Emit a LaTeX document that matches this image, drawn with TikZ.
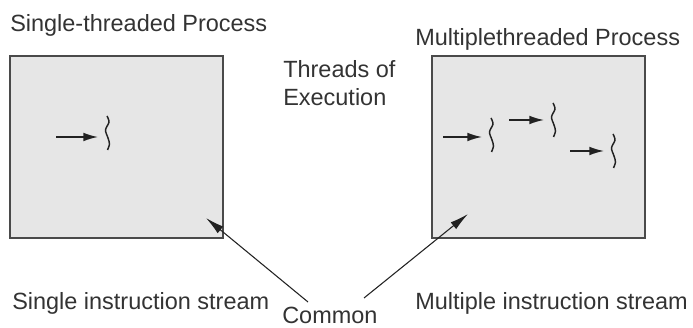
\documentclass[tikz,border=0pt]{standalone}
\usepackage{fontspec}
\setsansfont{Liberation Sans}
\usetikzlibrary{arrows.meta}
\usepackage{xcolor}
\definecolor{ink}{HTML}{333333}
\definecolor{wire}{HTML}{222222}
\definecolor{procFill}{HTML}{E6E6E6}
\definecolor{procLine}{HTML}{4A4A4A}
\tikzset{
  base/.style={font=\sffamily\fontsize{17.6}{21}\selectfont, text=ink, inner sep=0pt},
  heading/.style={base, anchor=base west},
  note/.style={base, align=left, anchor=north west},
  process/.style={draw=procLine, fill=procFill, line width=1.1pt, minimum width=159.75pt, minimum height=136.5pt, inner sep=0pt},
  thread/.style={minimum width=8pt, minimum height=28pt, inner sep=0pt,
    path picture={\draw[wire, line width=1.1pt, shift={(path picture bounding box.center)}]
      plot[smooth] coordinates {(0,17) (2,11) (-1.5,3) (1,-5) (2.5,-11) (0.5,-17)};}},
  flow/.style={-{Latex[length=11pt,width=6.5pt]}, line width=1.2pt, draw=wire, shorten >=2.5pt},
  pointer/.style={-{Latex[length=14pt,width=6.5pt]}, line width=0.8pt, draw=wire},
}

\begin{document}
\begin{tikzpicture}[x=0.75pt,y=0.75pt]
  \useasboundingbox (0,0) rectangle (693,328);

  \node[heading] (stitle) at (10,296) {Single-threaded Process};
  \node[heading] (mtitle) at (415,282) {Multiplethreaded Process};
  \node[note] (threads) at (283,268) {Threads of\\Execution};

  \node[process] (single) at (116.5,181) {};
  \node[process] (multi) at (538.5,181) {};

  \node[thread] (t0) at (107,195) {};
  \node[thread] (t1) at (491,193) {};
  \node[thread] (t2) at (553,208) {};
  \node[thread] (t3) at (613,177) {};
  \coordinate (a0) at (56,191);
  \coordinate (a1) at (443,191);
  \coordinate (a2) at (509,208);
  \coordinate (a3) at (570,177);

  \draw[flow] (a0) -- (a0 -| t0.west);
  \draw[flow] (a1) -- (a1 -| t1.west);
  \draw[flow] (a2) -- (a2 -| t2.west);
  \draw[flow] (a3) -- (a3 -| t3.west);

  \node[heading] (sstream) at (12,18) {Single instruction stream};
  \node[heading] (mstream) at (415,18) {Multiple instruction stream};
  \node[heading] (common) at (282,4) {Common};

  \coordinate (cl) at (308,26);
  \coordinate (tl) at (206,110);
  \coordinate (cr) at (364,30);
  \coordinate (tr) at (468,114);
  \draw[pointer] (cl) -- (tl);
  \draw[pointer] (cr) -- (tr);
\end{tikzpicture}
\end{document}
